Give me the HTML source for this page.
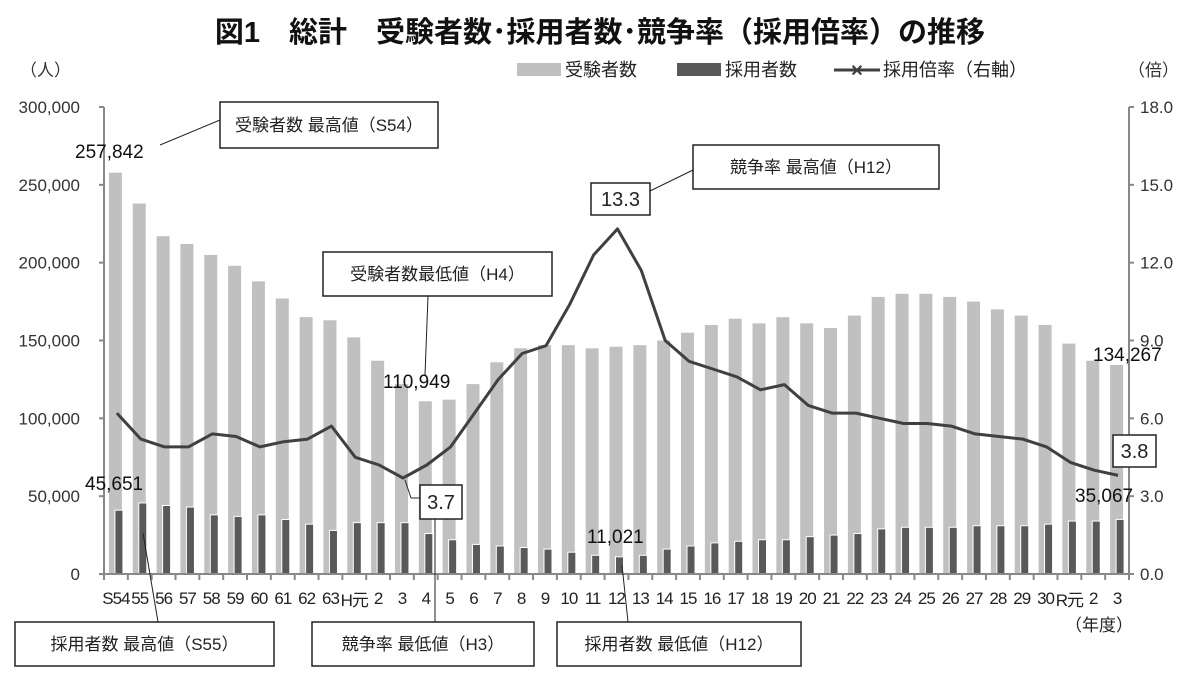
<!DOCTYPE html>
<html><head><meta charset="utf-8"><style>
body{margin:0;background:#fff;}
svg text{font-family:"Liberation Sans","Noto Sans CJK JP",sans-serif;}
</style></head><body>
<svg id="s" width="1200" height="679" xmlns="http://www.w3.org/2000/svg">
<rect width="1200" height="679" fill="#fff"/>
<text x="600" y="42" text-anchor="middle" font-size="29" font-weight="bold" fill="#111">図1　総計　受験者数･採用者数･競争率（採用倍率）の推移</text>
<text x="20" y="76" font-size="17" fill="#333">（人）</text>
<text x="1128" y="76" font-size="17" fill="#333">（倍）</text>
<rect x="517" y="63" width="44" height="13" fill="#c0c0c0"/>
<text x="565" y="76" font-size="18" fill="#222">受験者数</text>
<rect x="677" y="63" width="44" height="13" fill="#595959"/>
<text x="725" y="76" font-size="18" fill="#222">採用者数</text>
<line x1="834" y1="70" x2="880" y2="70" stroke="#404040" stroke-width="3"/>
<text x="857" y="76" font-size="16" text-anchor="middle" fill="#404040" font-weight="bold">✕</text>
<text x="883" y="76" font-size="18" fill="#222">採用倍率（右軸）</text>
<g id="g"></g>
</svg>
<script>
var rec=[257842,238000,217000,212000,205000,198000,188000,177000,165000,163000,152000,137000,122000,110949,112000,122000,136000,145000,147000,147000,145000,146000,147000,150000,155000,160000,164000,161000,165000,161000,158000,166000,178000,180000,180000,178000,175000,170000,166000,160000,148000,137000,134267];
var hir=[41000,45651,44000,43000,38000,37000,38000,35000,32000,28000,33000,33000,33000,26000,22000,19000,18000,17000,16000,14000,12000,11021,12000,16000,18000,20000,21000,22000,22000,24000,25000,26000,29000,30000,30000,30000,31000,31000,31000,32000,34000,34000,35067];
var rat=[6.2,5.2,4.9,4.9,5.4,5.3,4.9,5.1,5.2,5.7,4.5,4.2,3.7,4.2,4.9,6.2,7.5,8.5,8.8,10.4,12.3,13.3,11.7,9.0,8.2,7.9,7.6,7.1,7.3,6.5,6.2,6.2,6.0,5.8,5.8,5.7,5.4,5.3,5.2,4.9,4.3,4.0,3.8];
var labs=["S54","55","56","57","58","59","60","61","62","63","H元","2","3","4","5","6","7","8","9","10","11","12","13","14","15","16","17","18","19","20","21","22","23","24","25","26","27","28","29","30","R元","2","3"];
var X0=104,X1=1129,Y0=574,Y1=107,W=(X1-X0)/43,H=Y0-Y1;
var h='';
function yl(v){return Y0-v/300000*H}
function yr(v){return Y0-v/18*H}
for(var i=0;i<43;i++){var c=X0+W*(i+0.5);
h+='<rect x="'+(c-7)+'" y="'+yl(rec[i])+'" width="13" height="'+(Y0-yl(rec[i]))+'" fill="#c0c0c0"/>';}
for(var i=0;i<43;i++){var c=X0+W*(i+0.5);
h+='<rect x="'+(c-1)+'" y="'+yl(hir[i])+'" width="8" height="'+(Y0-yl(hir[i]))+'" fill="#595959" stroke="#fff" stroke-width="1"/>';}
var p='';for(var i=0;i<43;i++){var c=X0+W*(i+0.5)+1;p+=(i?'L':'M')+c.toFixed(1)+','+yr(rat[i]).toFixed(1);}
h+='<path d="'+p+'" fill="none" stroke="#404040" stroke-width="3" stroke-linejoin="round"/>';
h+='<line x1="'+X0+'" y1="107" x2="'+X0+'" y2="574" stroke="#888" stroke-width="2"/>';
h+='<line x1="'+X1+'" y1="107" x2="'+X1+'" y2="574" stroke="#888" stroke-width="2"/>';
h+='<line x1="'+X0+'" y1="574" x2="'+X1+'" y2="574" stroke="#888" stroke-width="2"/>';
for(var k=0;k<=6;k++){var y=Y0-k*H/6;
h+='<line x1="'+(X0-5)+'" y1="'+y+'" x2="'+X0+'" y2="'+y+'" stroke="#888" stroke-width="2"/>';
h+='<line x1="'+X1+'" y1="'+y+'" x2="'+(X1+5)+'" y2="'+y+'" stroke="#888" stroke-width="2"/>';
h+='<text x="80" y="'+(y+6)+'" font-size="17" text-anchor="end" fill="#333">'+(k?(k*50)+',000':'0')+'</text>';
h+='<text x="1140" y="'+(y+6)+'" font-size="17" fill="#333">'+(k*3).toFixed(1)+'</text>';}
for(var i=0;i<=43;i++){var x=X0+W*i;h+='<line x1="'+x+'" y1="574" x2="'+x+'" y2="580" stroke="#888" stroke-width="2"/>';}
for(var i=0;i<43;i++){var c=X0+W*(i+0.5);h+='<text x="'+c+'" y="'+(labs[i].indexOf('元')>=0?606:604)+'" font-size="17" text-anchor="middle" fill="#222" letter-spacing="-1">'+labs[i]+'</text>';}
h+='<text x="1099" y="631" font-size="17" text-anchor="middle" fill="#222">（年度）</text>';
function box(x,y,w,hh,t,fs){return '<rect x="'+x+'" y="'+y+'" width="'+w+'" height="'+hh+'" fill="#fff" stroke="#222" stroke-width="1.5"/><text x="'+(x+w/2)+'" y="'+(y+hh/2+fs*0.36)+'" font-size="'+fs+'" text-anchor="middle" fill="#222">'+t+'</text>';}
function ln(a,b,c,d){return '<line x1="'+a+'" y1="'+b+'" x2="'+c+'" y2="'+d+'" stroke="#222" stroke-width="1"/>';}
h+=ln(160,145,220,120)+box(220,102,218,46,'受験者数 最高値（S54）',17);
h+=ln(650,191,693,170)+box(693,145,246,44,'競争率 最高値（H12）',17);
h+=ln(425,375,428,296)+box(323,252,229,44,'受験者数最低値（H4）',17);
h+=ln(143,533,158,622)+box(15,622,259,44,'採用者数 最高値（S55）',17);
h+=ln(622,565,628,622)+box(557,622,244,44,'採用者数 最低値（H12）',17);
h+=ln(405,480,411,498)+ln(411,498,420,498)+box(420,485,42,34,'3.7',20);
h+=ln(435,519,435,622)+box(312,622,222,44,'競争率 最低値（H3）',17);
h+=box(591,183,59,32,'13.3',20);
h+=box(1113,435,43,32,'3.8',20);
h+='<text x="75" y="158" font-size="19" fill="#111">257,842</text>';
h+='<text x="85" y="490" font-size="19" fill="#111">45,651</text>';
h+='<text x="383" y="388" font-size="19" fill="#111">110,949</text>';
h+='<text x="587" y="543" font-size="19" fill="#111">11,021</text>';
h+='<text x="1093" y="361" font-size="19" fill="#111">134,267</text>';
h+='<text x="1075" y="502" font-size="19" fill="#111">35,067</text>';
document.getElementById('g').innerHTML=h;
</script>
</body></html>
